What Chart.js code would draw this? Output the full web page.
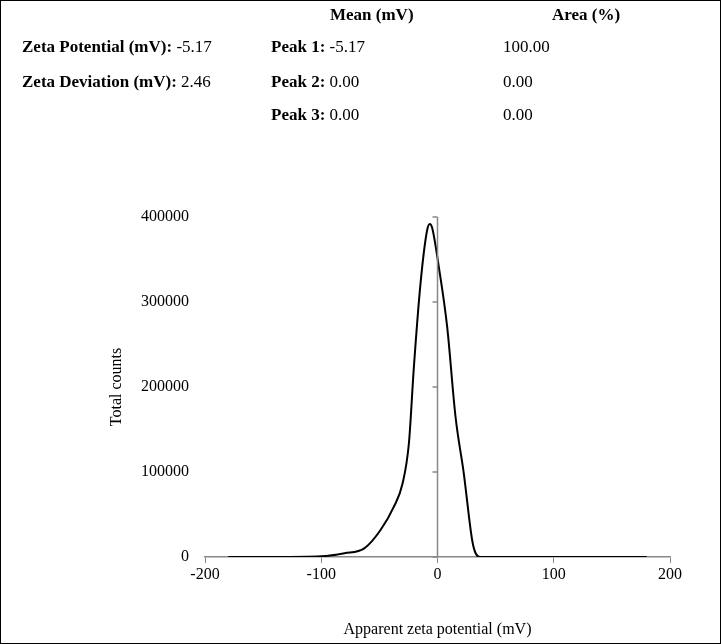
<!DOCTYPE html>
<html><head><meta charset="utf-8">
<script src="https://cdn.jsdelivr.net/npm/chart.js@4/dist/chart.umd.min.js"></script>
<style>
html,body{margin:0;padding:0;background:#fff;}
#wrap{position:relative;width:719px;height:642px;border:1px solid #000;font-family:"Liberation Serif","Times New Roman",serif;font-size:17px;color:#000;}
.t{position:absolute;white-space:nowrap;}
b{font-weight:bold;}
canvas{position:absolute;left:0;top:0;}
</style></head><body>
<div id="wrap">
<canvas id="c" width="719" height="642"></canvas>
<div class="t" style="left:329px;top:4px"><b>Mean (mV)</b></div>
<div class="t" style="left:551px;top:4px"><b>Area (%)</b></div>
<div class="t" style="left:21px;top:36px"><b>Zeta Potential (mV):</b> -5.17</div>
<div class="t" style="left:21px;top:71px"><b>Zeta Deviation (mV):</b> 2.46</div>
<div class="t" style="left:270px;top:36px"><b>Peak 1:</b> -5.17</div>
<div class="t" style="left:270px;top:71px"><b>Peak 2:</b> 0.00</div>
<div class="t" style="left:270px;top:104px"><b>Peak 3:</b> 0.00</div>
<div class="t" style="left:502px;top:36px">100.00</div>
<div class="t" style="left:502px;top:71px">0.00</div>
<div class="t" style="left:502px;top:104px">0.00</div>
</div>
<script>
const zetaMV = [-180,-140,-100,-80,-63,-49,-37.5,-30,-24.6,-20.3,-14.6,-8.9,-6.6,-4.5,1.1,8.3,15.5,22.6,29.8,32.6,36.9,60,100,140,180];
const totalCounts = [0,0,800,4400,10200,31800,59200,86700,133800,223900,322000,384700,391800,386700,341500,270900,165000,98500,20000,5000,0,0,0,0,0];
const xTicks = [-200,-100,0,100,200];
const yTicks = [0,100000,200000,300000,400000];
const font = {family:'"Liberation Serif","Times New Roman",serif', size:16};
const zeroTicks = {
  id:'zeroTicks',
  afterDraw(ch){
    const {ctx, scales:{x,y}} = ch;
    const x0 = x.getPixelForValue(0);
    ctx.save(); ctx.strokeStyle='#888'; ctx.lineWidth=1.5;
    ctx.beginPath(); ctx.moveTo(x0, y.getPixelForValue(400000)); ctx.lineTo(x0, y.getPixelForValue(0)); ctx.stroke();
    yTicks.forEach(v=>{const py=y.getPixelForValue(v); ctx.beginPath(); ctx.moveTo(x0-5,py); ctx.lineTo(x0,py); ctx.stroke();});
    ctx.restore();
  }
};
new Chart(document.getElementById('c'), {
  type:'line',
  data:{datasets:[{data:zetaMV.map((v,i)=>({x:v,y:totalCounts[i]})), borderColor:'#000', borderWidth:2, pointRadius:0, tension:0.4, cubicInterpolationMode:'monotone', fill:false}]},
  options:{
    responsive:false, animation:false,
    layout:{padding:{left:106,top:216,right:50,bottom:0}},
    plugins:{legend:{display:false},tooltip:{enabled:false}},
    scales:{
      x:{type:'linear',min:-200,max:200,
        afterBuildTicks(a){a.ticks=xTicks.map(v=>({value:v}));},
        afterFit(a){a.height=86;},
        grid:{display:true,drawOnChartArea:false,drawTicks:true,tickLength:6,color:'#888'},
        border:{color:'#888',width:1.5},
        ticks:{color:'#000',font,padding:2,maxRotation:0},
        title:{display:true,text:'Apparent zeta potential (mV)',color:'#000',font,padding:{top:8}}},
      y:{min:0,max:400000,
        afterBuildTicks(a){a.ticks=yTicks.map(v=>({value:v}));},
        afterFit(a){a.width=98;},
        grid:{display:false},border:{display:false},
        ticks:{color:'#000',font,padding:8,callback:v=>String(v)},
        title:{display:true,text:'Total counts',color:'#000',font,padding:0}}
    }
  },
  plugins:[zeroTicks]
});
</script></body></html>
